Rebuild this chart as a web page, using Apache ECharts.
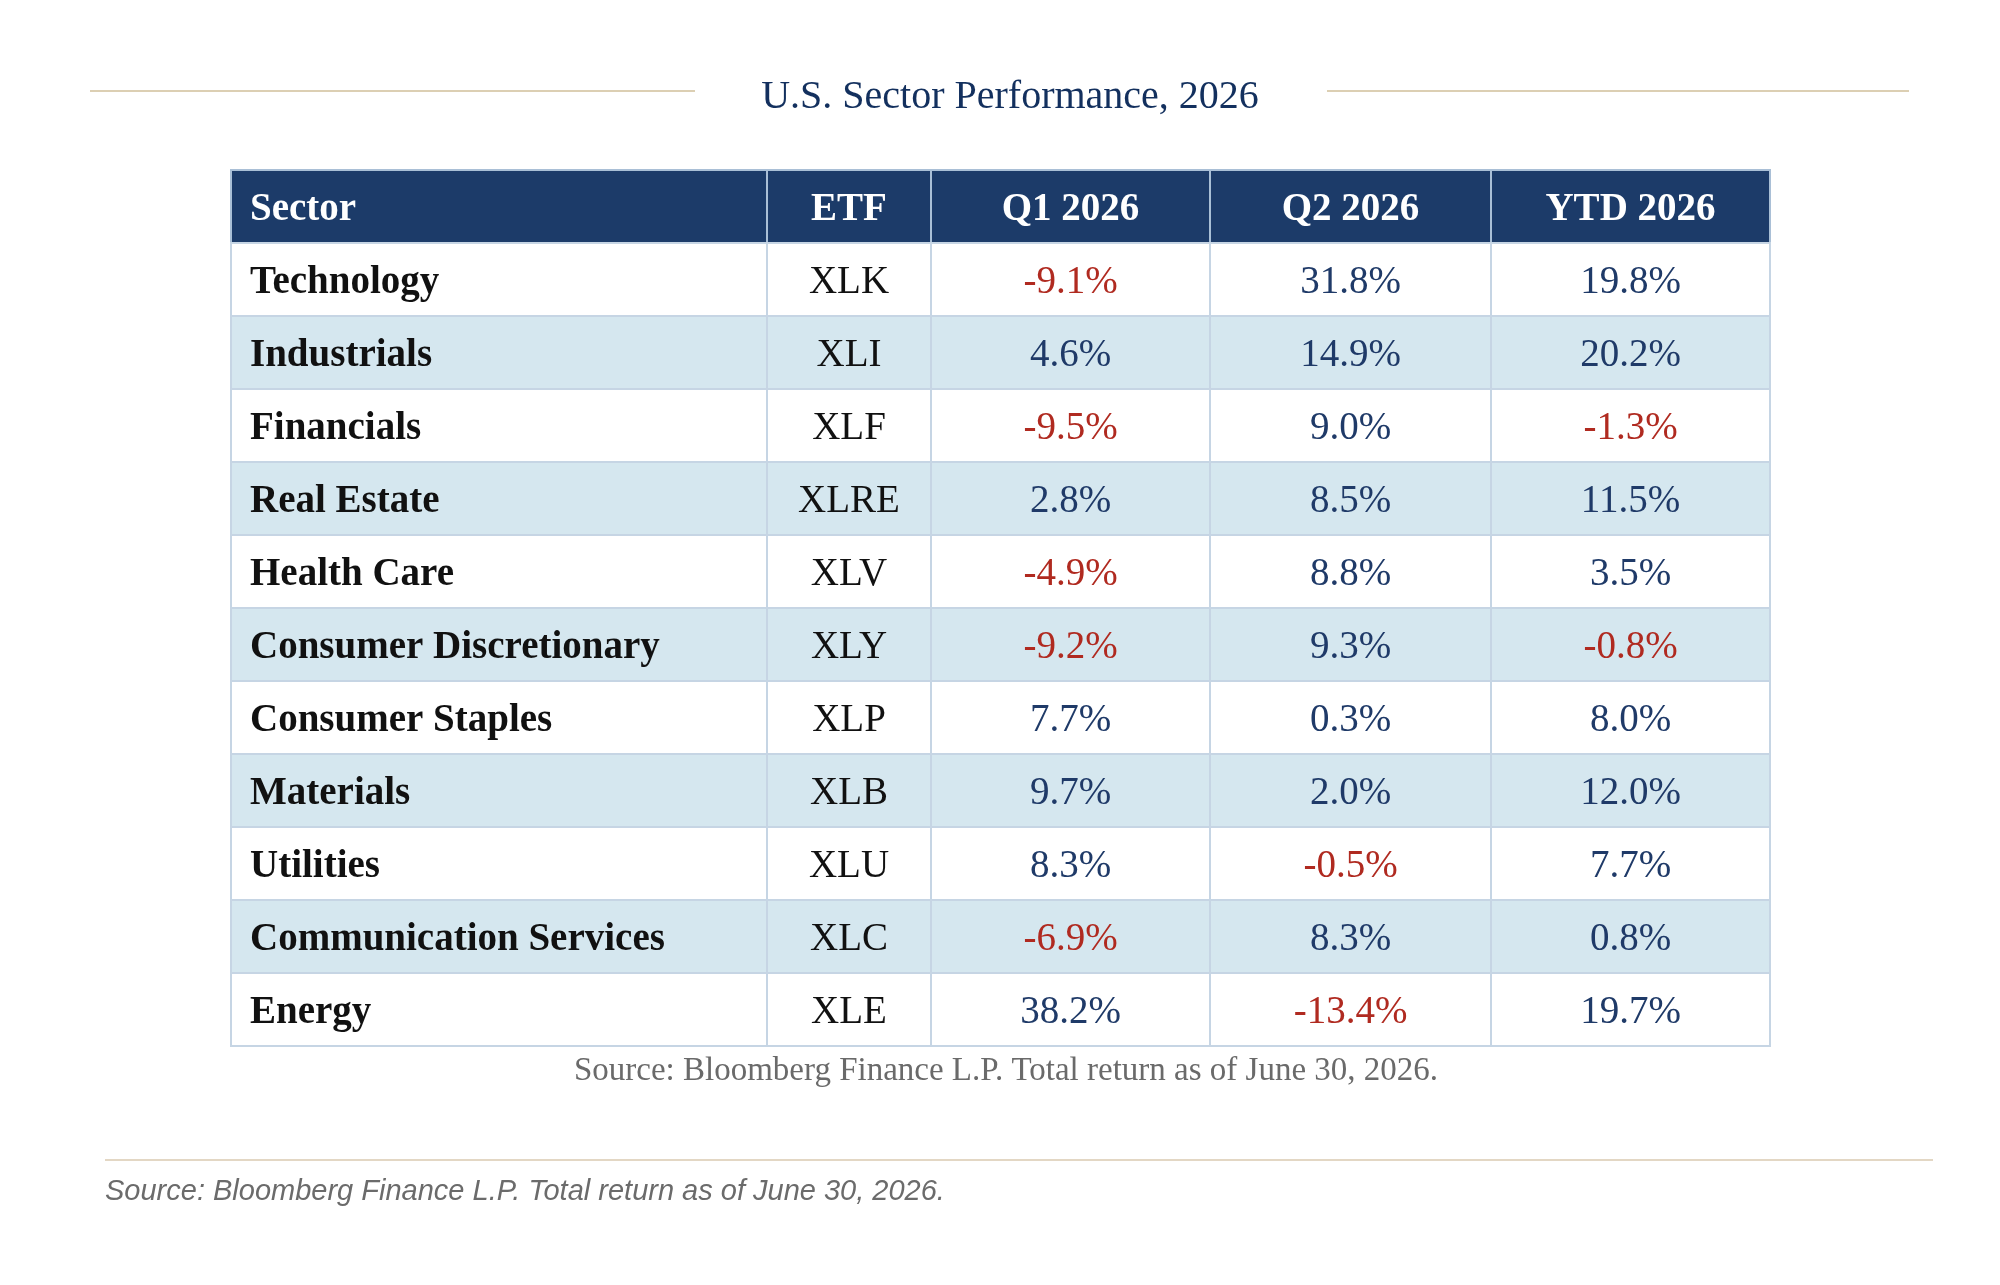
<!DOCTYPE html>
<html>
<head>
<meta charset="utf-8">
<title>U.S. Sector Performance, 2026</title>
<script src="https://cdn.jsdelivr.net/npm/echarts@6/dist/echarts.min.js"></script>
<style>
  html, body { margin: 0; padding: 0; background: #fff; }
  #chart { width: 2000px; height: 1285px; }
</style>
</head>
<body>
<div id="chart"></div>
<script>
// table content
var headers = ['Sector', 'ETF', 'Q1 2026', 'Q2 2026', 'YTD 2026'];
var sectors = ['Technology', 'Industrials', 'Financials', 'Real Estate', 'Health Care',
    'Consumer Discretionary', 'Consumer Staples', 'Materials', 'Utilities',
    'Communication Services', 'Energy'];
var etfs = ['XLK', 'XLI', 'XLF', 'XLRE', 'XLV', 'XLY', 'XLP', 'XLB', 'XLU', 'XLC', 'XLE'];
var q1 = [-9.1, 4.6, -9.5, 2.8, -4.9, -9.2, 7.7, 9.7, 8.3, -6.9, 38.2];
var q2 = [31.8, 14.9, 9.0, 8.5, 8.8, 9.3, 0.3, 2.0, -0.5, 8.3, -13.4];
var ytd = [19.8, 20.2, -1.3, 11.5, 3.5, -0.8, 8.0, 12.0, 7.7, 0.8, 19.7];

var sourceText = 'Source: Bloomberg Finance L.P. Total return as of June 30, 2026.';

// column widths in px (layout)
var colWidths = [536, 164, 279, 281, 279];
var colEdges = [0];
for (var i = 0; i < colWidths.length; i++) {
    colEdges.push(colEdges[i] + colWidths[i]);
}

var NAVY = '#1c3b69';
var LIGHT = '#d5e7ef';
var BORDER = '#c6d5e4';
var POS = '#1f3a68';
var NEG = '#b02a20';

function fmt(v) {
    return v.toFixed(1) + '%';
}

// rows: 0 = header, 1..n = sectors
var rowNames = ['header'].concat(sectors);

function buildCells() {
    var arr = [];
    for (var c = 0; c < headers.length; c++) {
        arr.push([c, 0, headers[c], 'head']);
    }
    for (var r = 0; r < sectors.length; r++) {
        arr.push([0, r + 1, sectors[r], 'sector']);
        arr.push([1, r + 1, etfs[r], 'etf']);
        arr.push([2, r + 1, fmt(q1[r]), q1[r] < 0 ? 'neg' : 'pos']);
        arr.push([3, r + 1, fmt(q2[r]), q2[r] < 0 ? 'neg' : 'pos']);
        arr.push([4, r + 1, fmt(ytd[r]), ytd[r] < 0 ? 'neg' : 'pos']);
    }
    return arr;
}

function renderCell(params, api) {
    var col = api.value(0);
    var row = api.value(1);
    var txt = api.value(2);
    var kind = api.value(3);
    var p0 = api.coord([colEdges[col], row]);
    var p1 = api.coord([colEdges[col + 1], row]);
    var h = api.size([0, 1])[1];
    var x0 = p0[0], x1 = p1[0], yc = p0[1];
    var fill = '#ffffff';
    if (kind === 'head') fill = NAVY;
    else if (row % 2 === 0) fill = LIGHT;

    var color = '#111111', weight = 'normal', align = 'center', tx = (x0 + x1) / 2;
    if (kind === 'head') { color = '#ffffff'; weight = 'bold'; }
    if (kind === 'sector') { weight = 'bold'; }
    if (kind === 'pos') color = POS;
    if (kind === 'neg') color = NEG;
    if (col === 0) { align = 'left'; tx = x0 + 19; }

    return {
        type: 'group',
        children: [{
            type: 'rect',
            shape: { x: x0, y: yc - h / 2, width: x1 - x0, height: h },
            style: { fill: fill, stroke: kind === 'head' ? '#a9bfd6' : BORDER, lineWidth: 2 }
        }, {
            type: 'text',
            style: {
                text: txt,
                x: tx,
                y: yc + 3,
                fill: color,
                fontFamily: '"Liberation Serif", "Times New Roman", serif',
                fontSize: 39,
                fontWeight: weight,
                align: align,
                verticalAlign: 'middle'
            }
        }]
    };
}

var myChart = echarts.init(document.getElementById('chart'));
var option = {
    backgroundColor: '#ffffff',
    animation: false,
    grid: { left: 231, top: 170, width: 1539, height: 876 },
    xAxis: {
        type: 'value',
        min: 0,
        max: colEdges[colEdges.length - 1],
        show: false
    },
    yAxis: {
        type: 'category',
        data: rowNames,
        inverse: true,
        show: false
    },
    graphic: [
        // title with rules either side
        {
            type: 'line', shape: { x1: 90, y1: 91, x2: 695, y2: 91 },
            style: { stroke: '#dccfb3', lineWidth: 2 }
        },
        {
            type: 'line', shape: { x1: 1327, y1: 91, x2: 1909, y2: 91 },
            style: { stroke: '#dccfb3', lineWidth: 2 }
        },
        {
            type: 'text', x: 1010, y: 97,
            style: {
                text: 'U.S. Sector Performance, 2026',
                fill: '#13305e',
                fontFamily: '"Liberation Serif", "Times New Roman", serif',
                fontSize: 40,
                align: 'center',
                verticalAlign: 'middle'
            }
        },
        {
            type: 'text', x: 1006, y: 1071,
            style: {
                text: sourceText,
                fill: '#6a6a6a',
                fontFamily: '"Liberation Serif", "Times New Roman", serif',
                fontSize: 33,
                align: 'center',
                verticalAlign: 'middle'
            }
        },
        {
            type: 'line', shape: { x1: 105, y1: 1160, x2: 1933, y2: 1160 },
            style: { stroke: '#e3d7c4', lineWidth: 2 }
        },
        {
            type: 'text', x: 105, y: 1192,
            style: {
                text: sourceText,
                fill: '#6b6b6b',
                fontFamily: '"Liberation Sans", Arial, sans-serif',
                fontStyle: 'italic',
                fontSize: 29,
                align: 'left',
                verticalAlign: 'middle'
            }
        }
    ],
    series: [{
        type: 'custom',
        renderItem: renderCell,
        encode: { x: 0, y: 1 },
        data: buildCells()
    }]
};
myChart.setOption(option, true);
</script>
</body>
</html>
